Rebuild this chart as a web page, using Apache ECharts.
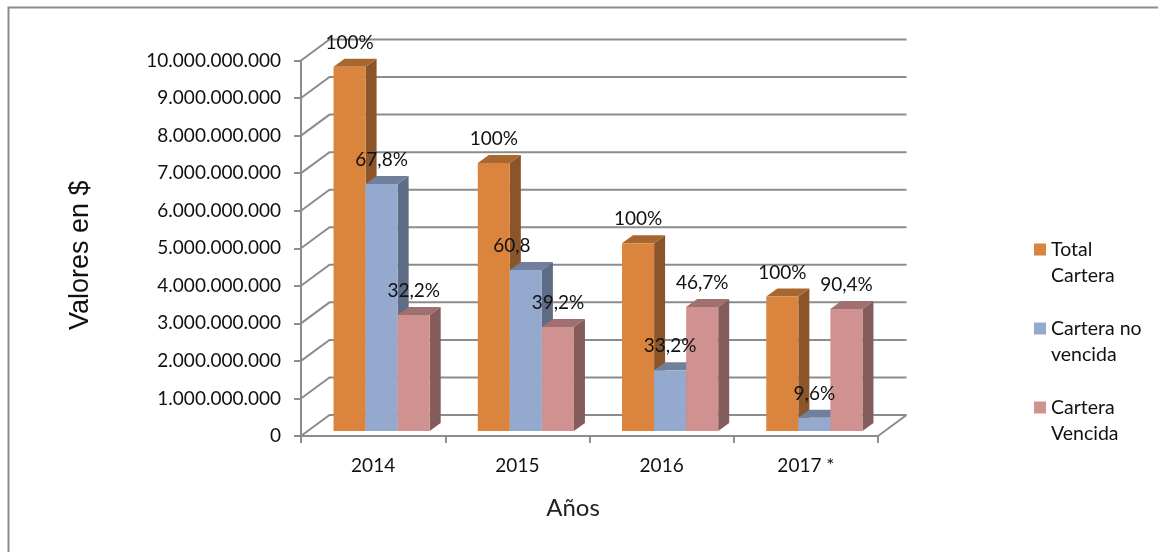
<!DOCTYPE html>
<html>
<head>
<meta charset="utf-8">
<script src="https://cdn.jsdelivr.net/npm/echarts@6/dist/echarts.min.js"></script>
<style>
html, body { margin: 0; padding: 0; background: #fff; }
#chart { width: 1158px; height: 552px; }
</style>
</head>
<body>
<div id="chart"></div>
<script>
const categories = ['2014', '2015', '2016', '2017 *'];
const totalCartera = [9700000000, 7140000000, 5000000000, 3580000000];
const carteraNoVencida = [6580000000, 4290000000, 1620000000, 350000000];
const carteraVencida = [3090000000, 2770000000, 3300000000, 3250000000];
const totalLabels = ['100%', '100%', '100%', '100%'];
const noVencidaLabels = ['67,8%', '60,8', '33,2%', '9,6%'];
const vencidaLabels = ['32,2%', '39,2%', '46,7%', '90,4%'];
const wallTicks = [0, 1e9, 2e9, 3e9, 4e9, 5e9, 6e9, 7e9, 8e9, 9e9, 1e10];

// fake 3d look, pixels
const wallDx = 28.5, wallDy = 21;
const barDx = 11, barDy = 8;
const floorDx = 8.5, floorDy = 5;
const gridColor = '#8c8c8c';
const textFont = 'Lato';

const seriesDefs = [
    { name: 'Total\nCartera', values: totalCartera, labels: totalLabels, front: '#db843d', side: '#8b5529', top: '#a8672e' },
    { name: 'Cartera no\nvencida', values: carteraNoVencida, labels: noVencidaLabels, front: '#95a9cf', side: '#5e6c85', top: '#707f9c' },
    { name: 'Cartera\nVencida', values: carteraVencida, labels: vencidaLabels, front: '#d09191', side: '#845c5c', top: '#a06f6f' }
];

// x of the front-left corner of a bar
function barLeft(api, catIndex, seriesIndex) {
    const band = api.size([1, 0])[0];
    const w = band / 4.5;
    return api.coord([catIndex, 0])[0] + floorDx + (seriesIndex - 1.5) * w;
}

function renderBar(seriesIndex, def) {
    return function (params, api) {
        const band = api.size([1, 0])[0];
        const w = band / 4.5;
        const cat = api.value(0);
        const x = barLeft(api, cat, seriesIndex);
        const y0 = api.coord([cat, 0])[1] - floorDy;
        const y1 = y0 - api.size([0, api.value(1)])[1];
        return {
            type: 'group',
            children: [
                { type: 'polygon', shape: { points: [[x + w, y0], [x + w + barDx, y0 - barDy], [x + w + barDx, y1 - barDy], [x + w, y1]] }, style: { fill: def.side } },
                { type: 'polygon', shape: { points: [[x, y1], [x + barDx, y1 - barDy], [x + w + barDx, y1 - barDy], [x + w, y1]] }, style: { fill: def.top } },
                { type: 'rect', shape: { x: x, y: y1, width: w, height: y0 - y1 }, style: { fill: def.front } }
            ]
        };
    };
}

function renderWall(params, api) {
    const cs = params.coordSys;
    const p = api.coord([0, api.value(0)]);
    const x = cs.x, y = p[1];
    const children = [{
        type: 'polyline',
        shape: { points: [[x, y], [x + wallDx, y - wallDy], [x + cs.width + wallDx, y - wallDy]] },
        style: { stroke: gridColor, lineWidth: 2, fill: null }
    }];
    if (api.value(0) === 0) {
        children.push({
            type: 'line',
            shape: { x1: x + cs.width, y1: y, x2: x + cs.width + wallDx, y2: y - wallDy },
            style: { stroke: gridColor, lineWidth: 2 }
        });
    }
    return { type: 'group', children: children };
}

function renderLabel(params, api) {
    const cat = api.value(0), s = api.value(1);
    const band = api.size([1, 0])[0];
    const w = band / 4.5;
    const x = barLeft(api, cat, s) + w / 2 + api.value(4);
    const y = api.coord([cat, api.value(2)])[1] - floorDy - 24;
    return {
        type: 'text',
        x: x, y: y,
        style: { text: api.value(3), fill: '#111', font: '19px ' + textFont, textAlign: 'center', textVerticalAlign: 'middle' }
    };
}

const labelRows = [];
seriesDefs.forEach((def, s) => {
    def.values.forEach((v, i) => {
        // the 60,8 label sits left of its bar in the original
        labelRows.push([i, s, v, def.labels[i], def.labels[i] === '60,8' ? -14 : 0]);
    });
});

const chart = echarts.init(document.getElementById('chart'));
chart.setOption({
    animation: false,
    backgroundColor: '#fff',
    graphic: [{
        type: 'polyline', left: 6, top: 5,
        shape: { points: [[0, 547], [0, 0], [1152, 0]] },
        style: { fill: null, stroke: '#8c8c8c', lineWidth: 2 }
    }],
    grid: { left: 301, right: 280, top: 60.5, bottom: 116, containLabel: false },
    legend: {
        left: 1034, top: 236,
        padding: 0,
        orient: 'vertical',
        data: seriesDefs.map(d => d.name),
        itemWidth: 12, itemHeight: 38,
        itemGap: 26,
        // square on top of a taller box so it lines up with the first text line
        icon: 'path://M0 0H12V12H0ZM0 38L0 38Z',
        selectedMode: false,
        textStyle: { fontFamily: textFont, fontSize: 19.5, lineHeight: 26.5, color: '#111' }
    },
    xAxis: {
        type: 'category',
        data: categories,
        name: 'Años',
        nameLocation: 'middle',
        nameGap: 60,
        nameTextStyle: { fontFamily: textFont, fontSize: 24, color: '#222', padding: [0, 33, 0, 0] },
        axisLine: { show: true, lineStyle: { color: gridColor, width: 2 } },
        axisTick: { show: true, alignWithLabel: false, length: 7, lineStyle: { color: gridColor, width: 2 } },
        axisLabel: { fontFamily: textFont, fontSize: 19, color: '#111', margin: 20 },
        splitLine: { show: false }
    },
    yAxis: {
        type: 'value',
        min: 0, max: 10000000000, interval: 1000000000,
        name: 'Valores en $',
        nameLocation: 'middle',
        nameGap: 207,
        nameTextStyle: { fontFamily: 'Liberation Sans', fontSize: 27, color: '#111', padding: [0, 14, 0, 0] },
        axisLine: { show: true, lineStyle: { color: gridColor, width: 2 } },
        axisTick: { show: true, length: 7, lineStyle: { color: gridColor, width: 2 } },
        axisLabel: {
            fontFamily: textFont, fontSize: 19, color: '#111', margin: 20,
            padding: [4, 0, 0, 0],
            formatter: v => String(v).replace(/\B(?=(\d{3})+$)/g, '.')
        },
        splitLine: { show: false }
    },
    series: [
        {
            type: 'custom', name: 'wall', z: 1, silent: true,
            coordinateSystem: 'cartesian2d',
            encode: { y: 0 },
            data: wallTicks.map(v => [v]),
            renderItem: renderWall
        }
    ].concat(seriesDefs.map((def, s) => ({
        type: 'custom',
        name: def.name,
        z: 3 + s,
        coordinateSystem: 'cartesian2d',
        itemStyle: { color: def.front },
        encode: { x: 0, y: 1 },
        data: def.values.map((v, i) => [i, v]),
        renderItem: renderBar(s, def)
    }))).concat([
        {
            type: 'custom', name: 'labels', z: 10, silent: true,
            coordinateSystem: 'cartesian2d',
            encode: { x: 0, y: 2 },
            dimensions: ['cat', 'ser', 'val', { name: 'txt', type: 'ordinal' }, 'shift'],
            data: labelRows,
            renderItem: renderLabel
        }
    ])
});
</script>
</body>
</html>
